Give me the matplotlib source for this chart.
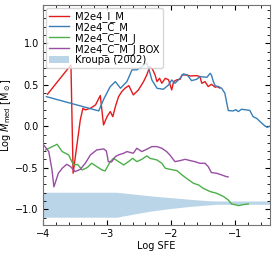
import numpy as np
import matplotlib
matplotlib.use("Agg")
import matplotlib.pyplot as plt

# values (log SFE, log M_med)
red_x = [-3.93, -3.564, -3.53, -3.418, -3.377, -3.34, -3.26, -3.18, -3.106, -3.055, -3.0,
         -2.95, -2.91, -2.87, -2.82, -2.77, -2.72, -2.66, -2.59, -2.51, -2.43, -2.38, -2.33,
         -2.29, -2.25, -2.22, -2.18, -2.145, -2.09, -2.04, -1.99, -1.96, -1.91, -1.86, -1.83,
         -1.76, -1.70, -1.60, -1.55, -1.52, -1.47, -1.42, -1.37, -1.31, -1.28, -1.24]
red_y = [0.386, 0.739, -0.566, 0.076, 0.217, 0.197, 0.217, 0.257, 0.37, 0.016, 0.116,
         0.177, 0.116, 0.237, 0.357, 0.418, 0.458, 0.49, 0.378, 0.438, 0.538, 0.618, 0.72,
         0.687, 0.618, 0.538, 0.578, 0.518, 0.578, 0.56, 0.438, 0.538, 0.56, 0.566, 0.618,
         0.618, 0.606, 0.61, 0.598, 0.518, 0.538, 0.478, 0.506, 0.47, 0.478, 0.46]

blue_x = [-3.948, -3.13, -3.05, -2.95, -2.87, -2.79, -2.69, -2.61, -2.535, -2.457, -2.38,
          -2.35, -2.30, -2.22, -2.12, -2.04, -1.99, -1.94, -1.86, -1.81, -1.75, -1.68, -1.60,
          -1.55, -1.44, -1.39, -1.37, -1.34, -1.31, -1.26, -1.21, -1.16, -1.13, -1.106, -1.03,
          -0.99, -0.95, -0.90, -0.82, -0.77, -0.72, -0.665, -0.61, -0.535, -0.50, -0.457]
blue_y = [0.357, 0.185, 0.33, 0.478, 0.538, 0.458, 0.538, 0.68, 0.68, 0.72, 0.76,
          0.70, 0.558, 0.458, 0.446, 0.498, 0.558, 0.518, 0.578, 0.63, 0.62, 0.55, 0.566,
          0.598, 0.59, 0.638, 0.618, 0.538, 0.486, 0.478, 0.458, 0.398, 0.277, 0.189, 0.185,
          0.2, 0.177, 0.205, 0.197, 0.19, 0.116, 0.096, 0.056, 0.004, -0.012, 0.0]

green_x = [-3.96, -3.78, -3.70, -3.6, -3.55, -3.52, -3.46, -3.39, -3.31, -3.24, -3.16, -3.08,
           -3.03, -2.95, -2.9, -2.82, -2.74, -2.665, -2.6, -2.535, -2.457, -2.38, -2.33,
           -2.22, -2.145, -2.09, -2.02, -1.91, -1.83, -1.76, -1.65, -1.57, -1.50, -1.39,
           -1.29, -1.18, -1.106, -1.055, -0.98, -0.95, -0.88, -0.795]
green_y = [-0.285, -0.217, -0.305, -0.345, -0.426, -0.466, -0.46, -0.526, -0.498, -0.446,
           -0.486, -0.526, -0.538, -0.426, -0.386, -0.426, -0.466, -0.426, -0.386, -0.426,
           -0.398, -0.357, -0.386, -0.406, -0.446, -0.506, -0.518, -0.534, -0.586, -0.627,
           -0.687, -0.707, -0.747, -0.787, -0.807, -0.847, -0.888, -0.936, -0.948, -0.956,
           -0.945, -0.936]

purple_x = [-3.99, -3.91, -3.86, -3.83, -3.76, -3.70, -3.63, -3.57, -3.50, -3.42, -3.34,
            -3.26, -3.16, -3.05, -3.01, -2.98, -2.93, -2.87, -2.82, -2.74, -2.69, -2.59,
            -2.535, -2.457, -2.38, -2.30, -2.22, -2.145, -2.07, -2.02, -1.94, -1.86, -1.78,
            -1.70, -1.63, -1.55, -1.47, -1.42, -1.37, -1.29, -1.21, -1.14, -1.11]
purple_y = [-0.225, -0.305, -0.526, -0.73, -0.566, -0.506, -0.458, -0.486, -0.546, -0.52,
            -0.446, -0.345, -0.285, -0.273, -0.3, -0.426, -0.43, -0.365, -0.345, -0.325,
            -0.305, -0.325, -0.265, -0.305, -0.277, -0.245, -0.245, -0.265, -0.305, -0.345,
            -0.426, -0.414, -0.398, -0.414, -0.426, -0.446, -0.446, -0.486, -0.558, -0.566,
            -0.586, -0.606, -0.61]

band_x = [-4.1, -2.85, -2.6, -2.3, -2.0, -1.7, -1.45, -1.28, -0.3]
band_lo = [-1.096, -1.096, -1.06, -1.02, -0.99, -0.965, -0.95, -0.94, -0.94]
band_hi = [-0.795, -0.795, -0.815, -0.84, -0.86, -0.88, -0.895, -0.90, -0.90]

labels = ["M2e4_I_M", "M2e4_C_M", "M2e4_C_M_J", "M2e4_C_M_J BOX", "Kroupa (2002)"]

fig = plt.figure(figsize=(2.74, 2.54), dpi=100)
ax = fig.add_axes([0.157, 0.114, 0.828, 0.866])

ax.plot(red_x, red_y, color="#e41a1c", lw=1.0, label=labels[0])
ax.plot(blue_x, blue_y, color="#377eb8", lw=1.0, label=labels[1])
ax.plot(green_x, green_y, color="#4daf4a", lw=1.0, label=labels[2])
ax.plot(purple_x, purple_y, color="#984ea3", lw=1.0, label=labels[3])
ax.fill_between(band_x, band_lo, band_hi, color="#1f77b4", alpha=0.3, lw=0, label=labels[4])

ax.set_xlim(-4, -0.457)
ax.set_ylim(-1.19, 1.46)
ax.set_xticks([-4, -3, -2, -1])
ax.set_yticks([-1.0, -0.5, 0.0, 0.5, 1.0])
ax.minorticks_on()
ax.tick_params(which="both", direction="in", top=True, right=True, labelsize=7)
ax.tick_params(which="major", length=3.5, pad=3)
ax.tick_params(which="minor", length=2)
for s in ax.spines.values():
    s.set_color("0.45")

ax.set_xlabel("Log SFE", fontsize=7, labelpad=1)
ax.set_ylabel(r"Log $M_{\rm med}$ [M$_\odot$]", fontsize=7, labelpad=2)

ax.legend(loc="upper left", fontsize=7.2, handlelength=2.0, labelspacing=0.0,
          borderpad=0.3, borderaxespad=0.3, handletextpad=0.6)

fig.savefig("out.png", dpi=100)
